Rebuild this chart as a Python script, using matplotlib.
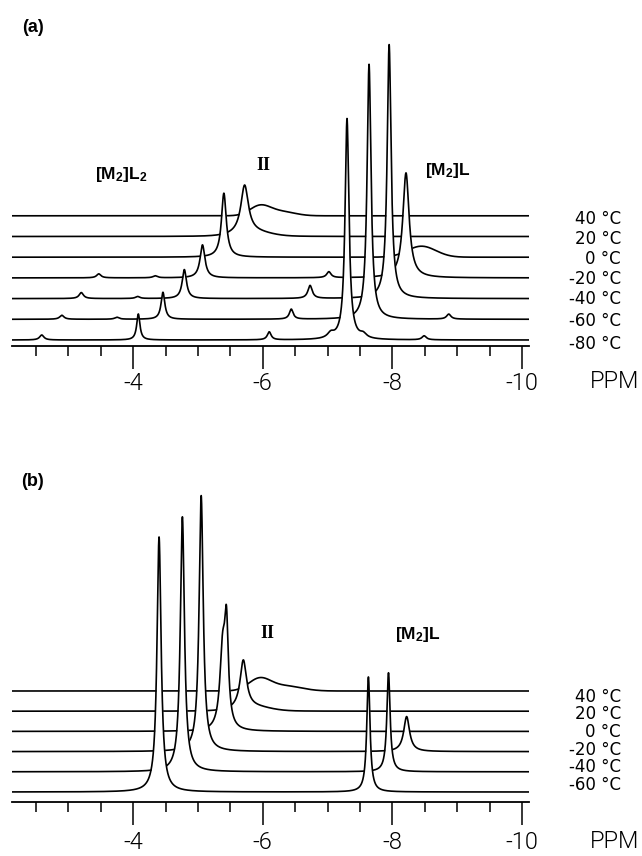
import numpy as np
import matplotlib
matplotlib.use("Agg")
import matplotlib.pyplot as plt
from matplotlib.ticker import FixedLocator, NullFormatter

plt.rcParams['mathtext.fontset'] = 'custom'
plt.rcParams['mathtext.bf'] = 'Liberation Sans:bold'
plt.rcParams['mathtext.rm'] = 'Liberation Sans'
plt.rcParams['axes.unicode_minus'] = False

# ---------------- data (ppm, intensity, half-width) ----------------
# Panel (a)
temps_a = [-80, -60, -40, -20, 0, 20, 40]
pos_a = [[-2.59, -4.08, -6.10, -7.05, -7.30, -7.55, -8.49],
         [-2.90, -3.75, -4.46, -6.44, -7.64, -8.87],
         [-3.20, -4.07, -4.79, -6.73, -7.95],
         [-3.47, -4.34, -5.07, -7.02, -8.21],
         [-5.40],
         [-5.72],
         []]
hgt_a = [[5, 26, 8, 5, 221, 4, 4],
         [4, 2, 27, 10, 255, 5],
         [6, 2, 29, 13, 254],
         [4, 2, 33, 6, 105],
         [64],
         [48],
         []]
wid_a = [[0.04, 0.03, 0.035, 0.06, 0.036, 0.06, 0.04],
         [0.04, 0.04, 0.035, 0.035, 0.036, 0.04],
         [0.04, 0.04, 0.04, 0.04, 0.036],
         [0.04, 0.04, 0.045, 0.04, 0.058],
         [0.045],
         [0.07],
         []]
hump_pos_a = [[], [], [], [], [-8.45], [-5.85], [-5.96, -6.30]]
hump_hgt_a = [[], [], [], [], [11], [4], [10, 4]]
hump_sig_a = [[], [], [], [], [0.22], [0.25], [0.16, 0.20]]

# Panel (b)
temps_b = [-60, -40, -20, 0, 20, 40]
pos_b = [[-4.40, -7.63],
         [-4.76, -7.94],
         [-5.05, -8.22],
         [-5.44, -5.38],
         [-5.70],
         []]
hgt_b = [[255, 115],
         [255, 99],
         [256, 35],
         [95, 75],
         [48],
         []]
wid_b = [[0.038, 0.03],
         [0.038, 0.03],
         [0.038, 0.054],
         [0.035, 0.05],
         [0.06],
         []]
hump_pos_b = [[], [], [], [], [-5.85], [-5.95, -6.35]]
hump_hgt_b = [[], [], [], [], [4], [12, 5]]
hump_sig_b = [[], [], [], [], [0.25], [0.17, 0.25]]

major_ticks = [-4, -6, -8, -10]
major_labels = ["-4", "-6", "-8", "-10"]
minor_ticks = list(np.arange(-2.5, -10.01, -0.5))

# ---------------- layout ----------------
W, H = 642, 856
XLIM = (-2.131, -10.108)
TICK_FONT = dict(family=['Roboto', 'DejaVu Sans'], fontweight=300, color='black')


def spectrum(x, pos, hgt, wid, hpos, hhgt, hsig):
    y = np.zeros_like(x)
    for p, h, w in zip(pos, hgt, wid):
        y += h / (1.0 + ((x - p) / w) ** 2)
    for p, h, s in zip(hpos, hhgt, hsig):
        y += h * np.exp(-0.5 * ((x - p) / s) ** 2)
    return y


def panel(fig, top_px, axis_px, temps, pos, hgt, wid, hpos, hhgt, hsig,
          base, step, label_y, tick_pad):
    ax = fig.add_axes([12 / W, 1 - axis_px / H, 517 / W, (axis_px - top_px) / H])
    ax.set_xlim(*XLIM)
    ax.set_ylim(0, axis_px - top_px)
    ax.patch.set_alpha(0)
    for s in ['top', 'left', 'right']:
        ax.spines[s].set_visible(False)
    ax.spines['bottom'].set_linewidth(1.3)
    ax.set_yticks([])
    x = np.linspace(XLIM[0], XLIM[1], 8000)
    n = len(temps)
    # draw back (highest temperature) first so that front traces hide it
    for i in range(n - 1, -1, -1):
        off = base + i * step
        y = spectrum(x, pos[i], hgt[i], wid[i], hpos[i], hhgt[i], hsig[i])
        z = 10 + (n - i) * 2
        ax.fill_between(x, off - 0.8, off + y, color='white', lw=0, zorder=z)
        ax.plot(x, off + y, color='black', lw=1.2, zorder=z + 1,
                solid_joinstyle='round')
    ax.xaxis.set_major_locator(FixedLocator(major_ticks))
    ax.xaxis.set_minor_locator(FixedLocator(minor_ticks))
    ax.set_xticklabels(major_labels, fontsize=17, **TICK_FONT)
    ax.xaxis.set_minor_formatter(NullFormatter())
    ax.tick_params(axis='x', which='major', direction='out', length=16.5,
                   width=1.1, pad=tick_pad)
    ax.tick_params(axis='x', which='minor', direction='out', length=7,
                   width=1.1)
    for t, ly in zip(temps, label_y):
        fig.text(621 / W, 1 - ly / H, f"{t} °C", ha='right', va='center',
                 fontsize=12, family='DejaVu Sans')
    return ax


fig = plt.figure(figsize=(W / 100, H / 100), dpi=100)

# panel (a)
panel(fig, 0, 346, temps_a, pos_a, hgt_a, wid_a, hump_pos_a, hump_hgt_a, hump_sig_a,
      base=6.0, step=20.7,
      label_y=[344, 321, 299, 279, 259, 239, 219], tick_pad=2.5)
fig.text(33 / W, 1 - 27 / H, "(a)", ha='center', va='center', fontsize=13,
         fontweight='bold', family='Liberation Sans')
fig.text(121 / W, 1 - 174 / H, r"$\mathbf{[M_2]L_2}$", ha='center', va='center',
         fontsize=12.5)
fig.text(263 / W, 1 - 166 / H, "II", ha='center', va='center', fontsize=13,
         fontweight='bold', family='Liberation Serif')
fig.text(448 / W, 1 - 170 / H, r"$\mathbf{[M_2]L}$", ha='center', va='center',
         fontsize=12.5)
fig.text(615 / W, 1 - 382 / H, "PPM", ha='center', va='center', fontsize=17,
         **TICK_FONT)

# panel (b)
panel(fig, 460, 802, temps_b, pos_b, hgt_b, wid_b, hump_pos_b, hump_hgt_b, hump_sig_b,
      base=10.0, step=20.2,
      label_y=[785, 767, 750, 732, 714, 697], tick_pad=4.5)
fig.text(33 / W, 1 - 482 / H, "(b)", ha='center', va='center', fontsize=13,
         fontweight='bold', family='Liberation Sans')
fig.text(267 / W, 1 - 633 / H, "II", ha='center', va='center', fontsize=13,
         fontweight='bold', family='Liberation Serif')
fig.text(418 / W, 1 - 635 / H, r"$\mathbf{[M_2]L}$", ha='center', va='center',
         fontsize=12.5)
fig.text(615 / W, 1 - 841 / H, "PPM", ha='center', va='center', fontsize=17,
         **TICK_FONT)

fig.savefig("out.png", dpi=100, facecolor='white')
